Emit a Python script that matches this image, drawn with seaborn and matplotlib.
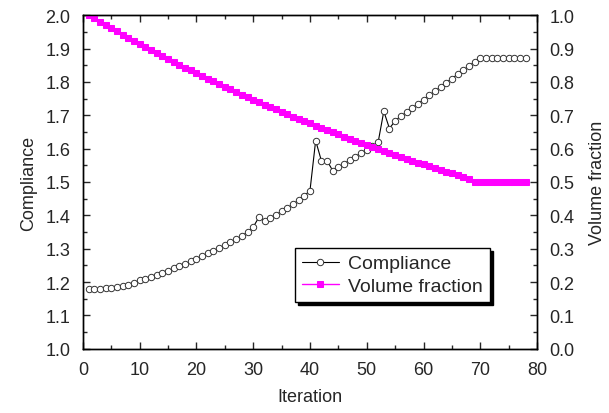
import numpy as np
import pandas as pd
import matplotlib
matplotlib.use("Agg")
import matplotlib.pyplot as plt
import seaborn as sns
from matplotlib.ticker import MultipleLocator

# --- Data ---
iterations = list(range(1, 79))

compliance = [
    1.180, 1.180, 1.180, 1.181, 1.182, 1.185, 1.188, 1.192, 1.198, 1.205,
    1.210, 1.216, 1.222, 1.228, 1.234, 1.241, 1.248, 1.255, 1.262, 1.270,
    1.278, 1.286, 1.294, 1.302, 1.310, 1.319, 1.328, 1.338, 1.350, 1.365,
    1.394, 1.384, 1.393, 1.402, 1.412, 1.422, 1.433, 1.446, 1.459, 1.474,
    1.624, 1.564, 1.564, 1.534, 1.544, 1.555, 1.565, 1.576, 1.587, 1.597,
    1.608, 1.619, 1.712, 1.660, 1.684, 1.697, 1.709, 1.722, 1.734, 1.747,
    1.760, 1.772, 1.785, 1.798, 1.810, 1.823, 1.835, 1.848, 1.860, 1.872,
    1.872, 1.872, 1.872, 1.872, 1.872, 1.872, 1.872, 1.872,
]

volume_fraction = [
    1.000, 0.990, 0.980, 0.970, 0.961, 0.951, 0.941, 0.932, 0.923, 0.914,
    0.904, 0.895, 0.886, 0.878, 0.869, 0.860, 0.851, 0.843, 0.835, 0.826,
    0.818, 0.810, 0.802, 0.794, 0.786, 0.778, 0.770, 0.762, 0.755, 0.747,
    0.740, 0.732, 0.725, 0.718, 0.711, 0.703, 0.696, 0.689, 0.683, 0.676,
    0.669, 0.662, 0.656, 0.649, 0.643, 0.636, 0.630, 0.624, 0.617, 0.611,
    0.605, 0.599, 0.593, 0.587, 0.581, 0.575, 0.570, 0.564, 0.558, 0.553,
    0.547, 0.542, 0.536, 0.531, 0.526, 0.520, 0.515, 0.510, 0.500, 0.500,
    0.500, 0.500, 0.500, 0.500, 0.500, 0.500, 0.500, 0.500,
]

df = pd.DataFrame({"Iteration": iterations,
                   "Compliance": compliance,
                   "Volume fraction": volume_fraction})

# --- Style ---
sns.set_style("ticks")
plt.rcParams["font.family"] = ["Liberation Sans", "DejaVu Sans"]
plt.rcParams["xtick.direction"] = "in"
plt.rcParams["ytick.direction"] = "in"

fig = plt.figure(figsize=(6.09, 4.14), dpi=100)
ax = fig.add_axes([0.136, 0.155, 0.746, 0.806])
ax2 = ax.twinx()

# Compliance: open circles with thin black line
sns.lineplot(data=df, x="Iteration", y="Compliance", ax=ax, color="black",
             linewidth=0.8, marker="o", markersize=4.6,
             markerfacecolor="white", markeredgecolor="#333333",
             markeredgewidth=0.7, label="Compliance", legend=False)

# Volume fraction: magenta filled squares
sns.lineplot(data=df, x="Iteration", y="Volume fraction", ax=ax2,
             color="#ff00ff", linewidth=1.0, marker="s", markersize=3.8,
             markerfacecolor="#ff00ff", markeredgecolor="#ff00ff",
             label="Volume fraction", legend=False)

# --- Axes ---
ax.set_xlim(0, 80)
ax.set_ylim(1.0, 2.0)
ax2.set_ylim(0.0, 1.0)

ax.xaxis.set_major_locator(MultipleLocator(10))
ax.xaxis.set_minor_locator(MultipleLocator(5))
ax.yaxis.set_major_locator(MultipleLocator(0.1))
ax.yaxis.set_minor_locator(MultipleLocator(0.05))
ax2.yaxis.set_major_locator(MultipleLocator(0.1))
ax2.yaxis.set_minor_locator(MultipleLocator(0.05))
ax.yaxis.set_major_formatter(plt.FormatStrFormatter("%.1f"))
ax2.yaxis.set_major_formatter(plt.FormatStrFormatter("%.1f"))

ax.tick_params(axis="both", which="major", length=5, width=1.0,
               labelsize=13, top=True, right=False, pad=9)
ax.tick_params(axis="both", which="minor", length=3, width=1.0,
               top=True, right=False)
ax2.tick_params(axis="y", which="major", length=5, width=1.0,
                labelsize=13, pad=9)
ax2.tick_params(axis="y", which="minor", length=3, width=1.0)

for a in (ax, ax2):
    for s in a.spines.values():
        s.set_visible(True)
        s.set_linewidth(1.0)
        s.set_color("black")

ax.set_xlabel("Iteration", fontsize=13, labelpad=7)
ax.set_ylabel("Compliance", fontsize=13, labelpad=6)
ax2.set_ylabel("Volume fraction", fontsize=13, rotation=90, labelpad=10)

# --- Legend ---
h1, l1 = ax.get_legend_handles_labels()
h2, l2 = ax2.get_legend_handles_labels()
leg = ax2.legend(h1 + h2, l1 + l2, loc="upper left",
                 bbox_to_anchor=(0.467, 0.302), borderaxespad=0,
                 fontsize=14, frameon=True, fancybox=False, framealpha=1,
                 edgecolor="black", handlelength=1.9, handletextpad=0.5,
                 borderpad=0.35, labelspacing=0.25,
                 shadow={"color": "black", "alpha": 1})
leg.get_frame().set_linewidth(1.0)

fig.savefig("out.png", dpi=100)
